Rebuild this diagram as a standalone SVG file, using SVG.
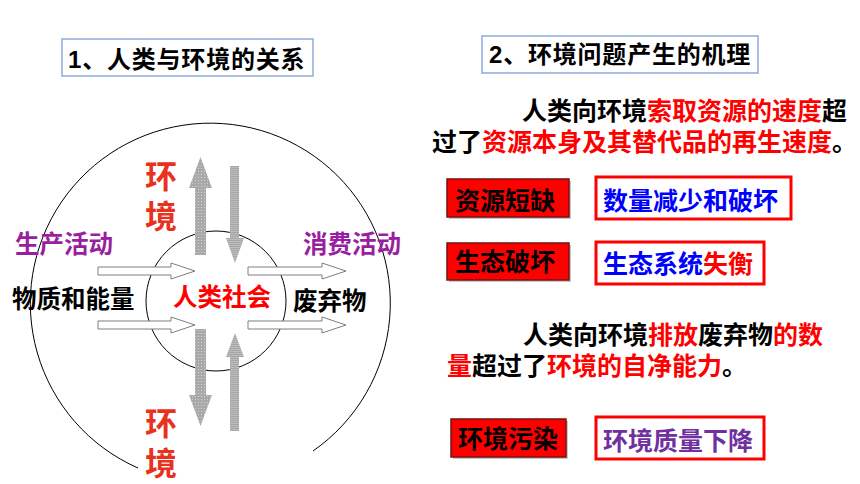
<svg xmlns="http://www.w3.org/2000/svg" width="860" height="484" viewBox="0 0 860 484">
<defs>
<style>
text{font-family:"Liberation Sans","Noto Sans CJK SC",sans-serif;font-weight:bold;}
.t{font-size:24px;fill:#000;}
.l{font-size:24.5px;}
.r{font-size:25px;}
.red{fill:#ff0000;}
.blk{fill:#000;}
.pur{fill:#9a1ea0;}
.blue{fill:#0000ff;}
.vio{fill:#7030a0;}
.env{font-size:32px;fill:#e8321e;}
.hbox{fill:#fff;stroke:#8eaadb;stroke-width:1.5;}
.rbox{fill:#ff0000;stroke:#7a1010;stroke-width:1.5;}
.wbox{fill:#fff;stroke:#ff0000;stroke-width:3;}
.circ{fill:none;stroke:#000;stroke-width:1;}
.harrow{fill:#fff;stroke:#7f7f7f;stroke-width:1;}
.dots{fill:url(#pDots);}
.lines{fill:url(#pLines);}
</style>
<pattern id="pDots" width="3" height="3" patternUnits="userSpaceOnUse">
<rect width="3" height="3" fill="#a9a9a9"/>
<rect width="1" height="1" fill="#d0d0d0"/>
</pattern>
<pattern id="pLines" width="4" height="2" patternUnits="userSpaceOnUse">
<rect width="4" height="2" fill="#bdbdbd"/>
<rect width="4" height="1" fill="#a6a6a6"/>
</pattern>
</defs>

<g id="circles">
<path class="circ" d="M138,468 A180,180 0 1 1 313,451"/>
<circle class="circ" cx="216" cy="301" r="70"/>
</g>

<g id="connectors">
<polygon class="dots" points="195,255 195,188 189,188 200.5,157 212,188 206,188 206,255"/>
<polygon class="lines" points="230,166 239,166 239,238 244,238 235,263 226,238 230,238"/>
<polygon class="dots" points="195,329 206,329 206,395 212,395 200.5,426 189,395 195,395"/>
<polygon class="lines" points="230,431 230,357 226,357 235,333 244,357 239,357 239,431"/>
<polygon class="harrow" points="98,267 171,267 171,263 195,271 171,279 171,275 98,275"/>
<polygon class="harrow" points="98,321 171,321 171,317 195,325 171,333 171,329 98,329"/>
<polygon class="harrow" points="248,267 322,267 322,263 346,271 322,279 322,275 248,275"/>
<polygon class="harrow" points="248,321 322,321 322,317 346,325 322,333 322,329 248,329"/>
</g>

<g id="title1">
<rect class="hbox" x="62" y="39" width="251" height="37"/>
<text class="t" x="68" y="68" letter-spacing="0.8">1、人类与环境的关系</text>
</g>

<g id="title2">
<rect class="hbox" x="482" y="36" width="276" height="37"/>
<text class="t" x="489" y="63" letter-spacing="0.8">2、环境问题产生的机理</text>
</g>

<g id="env-top">
<text class="env" x="145" y="188">环</text>
<text class="env" x="145" y="228">境</text>
</g>
<g id="env-bottom">
<text class="env" x="145" y="435">环</text>
<text class="env" x="145" y="475">境</text>
</g>

<g id="production"><text class="l pur" x="15" y="253">生产活动</text></g>
<g id="consumption"><text class="l pur" x="303" y="253">消费活动</text></g>
<g id="matter"><text class="l blk" x="12" y="308">物质和能量</text></g>
<g id="society"><text class="l red" x="173" y="306">人类社会</text></g>
<g id="waste"><text class="l blk" x="293" y="310">废弃物</text></g>

<g id="para1">
<text class="r blk" x="522" y="120">人类向环境</text>
<text class="r red" x="647" y="120">索取资源的速度</text>
<text class="r blk" x="822" y="120">超</text>
<text class="r blk" x="432" y="151">过了</text>
<text class="r red" x="482" y="151">资源本身及其替代品的再生速度</text>
<text class="r blk" x="832" y="151">。</text>
</g>

<g id="shortage">
<rect x="449" y="181" width="122" height="38" fill="#c8c8c8"/>
<rect class="rbox" x="447" y="179" width="122" height="38"/>
<text class="r blk" x="455" y="210">资源短缺</text>
</g>
<g id="shortage-result">
<rect class="wbox" x="596" y="177" width="195" height="42"/>
<text class="r blue" x="603" y="210">数量减少和破坏</text>
</g>

<g id="eco-damage">
<rect x="449" y="245" width="122" height="37" fill="#c8c8c8"/>
<rect class="rbox" x="447" y="243" width="122" height="37"/>
<text class="r blk" x="455" y="271">生态破坏</text>
</g>
<g id="eco-result">
<rect class="wbox" x="596" y="242" width="168" height="42"/>
<text class="r blue" x="603" y="273">生态系统</text>
<text class="r red" x="703" y="273">失衡</text>
</g>

<g id="para2">
<text class="r blk" x="523" y="344">人类向环境</text>
<text class="r red" x="648" y="344">排放</text>
<text class="r blk" x="698" y="344">废弃物</text>
<text class="r red" x="773" y="344">的数</text>
<text class="r red" x="447" y="375">量</text>
<text class="r blk" x="472" y="375">超过了</text>
<text class="r red" x="547" y="375">环境的自净能力</text>
<text class="r blk" x="722" y="375">。</text>
</g>

<g id="pollution">
<rect x="453" y="421" width="115" height="38" fill="#c8c8c8"/>
<rect class="rbox" x="451" y="419" width="115" height="38"/>
<text class="r blk" x="458" y="448">环境污染</text>
</g>
<g id="pollution-result">
<rect class="wbox" x="596" y="417" width="168" height="42"/>
<text class="r vio" x="603" y="450">环境质量下降</text>
</g>
</svg>
